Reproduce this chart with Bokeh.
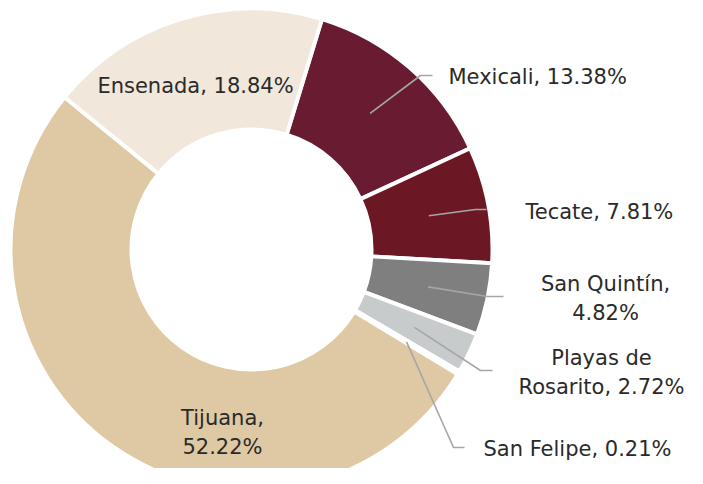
import numpy as np
from bokeh.plotting import figure
from bokeh.models import ColumnDataSource, Range1d
from bokeh.core.properties import value
from bokeh.embed import file_html
from bokeh.resources import INLINE

# ---- data ----
names = ["Mexicali", "Tecate", "San Quintín", "Playas de Rosarito", "San Felipe", "Tijuana", "Ensenada"]
shares = [13.38, 7.81, 4.82, 2.72, 0.21, 52.22, 18.84]
label_texts = ["Mexicali, 13.38%", "Tecate, 7.81%", "San Quintín,\n4.82%",
               "Playas de\nRosarito, 2.72%", "San Felipe, 0.21%", "Tijuana,\n52.22%",
               "Ensenada, 18.84%"]
colors = ["#691B31", "#6B1724", "#7F7F7F", "#C8CBCC", "#B38E5D", "#DFC9A4", "#F1E7DA"]

# ---- layout (screen-like coordinates, y downward negated) ----
W, H = 687, 468
cx, cy = 251.0, -249.0
r_out, r_in = 241, 120
start_deg = 73.0  # first slice begins 17 deg clockwise from top

# outside-label layout: elbow point, end point, text anchor, alignment
label_layout = {
    "Mexicali": ((420, 75), (432, 75), (448, 76), "left"),
    "Tecate": ((475, 209), (486, 209), (525, 211), "left"),
    "San Quintín": ((487, 296), (503, 296), (605, 298), "center"),
    "Playas de Rosarito": ((480, 370), (492, 370), (601, 372), "center"),
    "San Felipe": ((453, 447), (464, 447), (483, 448), "left"),
}
inside_layout = {
    "Tijuana": (222, 432),
    "Ensenada": (195, 85),
}

vals = np.array(shares, dtype=float)
cum = np.cumsum(vals) / vals.sum()
prev = np.concatenate([[0.0], cum[:-1]])
start_ang = np.radians(start_deg - 360.0 * prev)
end_ang = np.radians(start_deg - 360.0 * cum)
mid_ang = np.radians(start_deg - 360.0 * (prev + cum) / 2.0)

wsrc = ColumnDataSource(dict(name=names, start=start_ang, end=end_ang, color=colors))

p = figure(width=W, height=H, output_backend="svg", toolbar_location=None,
           x_range=Range1d(0, W), y_range=Range1d(-H, 0),
           min_border=0, outline_line_color=None)
p.axis.visible = False
p.grid.visible = False
p.background_fill_color = "white"
p.border_fill_color = "white"

p.annular_wedge(x=cx, y=cy, inner_radius=r_in, outer_radius=r_out,
                start_angle="start", end_angle="end", direction="clock",
                fill_color="color", line_color="white", line_width=4, source=wsrc)

# leader lines
xs, ys = [], []
tx, ty, tt, ta = [], [], [], []
for i, n in enumerate(names):
    if n in label_layout:
        (ex, ey), (hx, hy), (lx, ly), al = label_layout[n]
        rm = (r_in + r_out) / 2.0
        sx = cx + rm * np.cos(mid_ang[i])
        sy = cy + rm * np.sin(mid_ang[i])
        xs.append([sx, ex, hx])
        ys.append([sy, -ey, -hy])
        tx.append(lx); ty.append(-ly); tt.append(label_texts[i]); ta.append(al)
    else:
        lx, ly = inside_layout[n]
        tx.append(lx); ty.append(-ly); tt.append(label_texts[i]); ta.append("center")

p.multi_line(xs=xs, ys=ys, line_color="#A6A6A6", line_width=1.6)

tsrc = ColumnDataSource(dict(x=tx, y=ty, text=tt, align=ta))
p.text(x="x", y="y", text="text", text_align="align", text_baseline="middle",
       text_font=value("DejaVu Sans"), text_font_size="21px", text_color="#2A2A2A",
       text_line_height=1.2, source=tsrc)

open("out.html", "w").write(file_html(p, INLINE))
